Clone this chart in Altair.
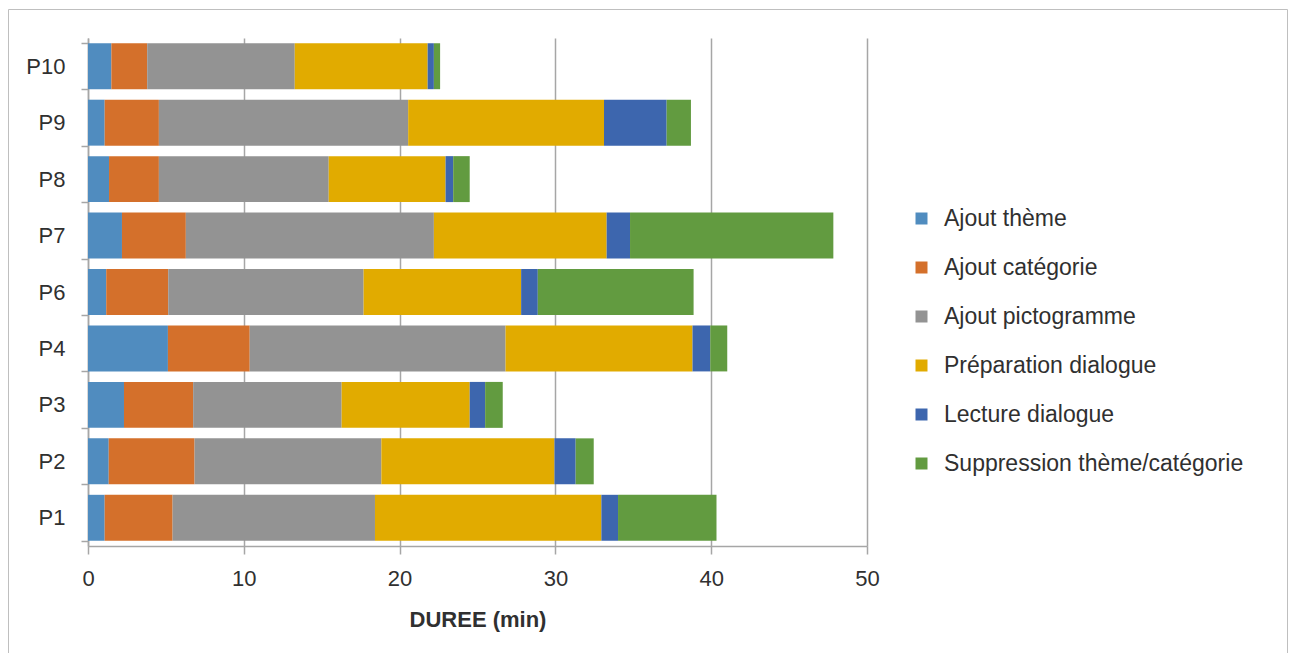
import altair as alt
import pandas as pd

participants = ["P1", "P2", "P3", "P4", "P6", "P7", "P8", "P9", "P10"]
series = [
    "Ajout thème",
    "Ajout catégorie",
    "Ajout pictogramme",
    "Préparation dialogue",
    "Lecture dialogue",
    "Suppression thème/catégorie",
]
colors = ["#508cbf", "#d4702b", "#939393", "#e1ab00", "#3d66ae", "#629b40"]

ajout_theme = [1.07, 1.33, 2.31, 5.13, 1.17, 2.18, 1.35, 1.07, 1.50]
ajout_categorie = [4.36, 5.51, 4.44, 5.25, 3.98, 4.10, 3.20, 3.48, 2.30]
ajout_pictogramme = [12.99, 11.99, 9.53, 16.42, 12.54, 15.92, 10.90, 16.00, 9.47]
preparation_dialogue = [14.53, 11.11, 8.22, 12.00, 10.11, 11.09, 7.50, 12.57, 8.53]
lecture_dialogue = [1.07, 1.36, 0.99, 1.14, 1.07, 1.50, 0.49, 4.02, 0.40]
suppression = [6.32, 1.16, 1.13, 1.09, 10.00, 13.05, 1.06, 1.56, 0.40]

x_ticks = [0, 10, 20, 30, 40, 50]

all_series = [ajout_theme, ajout_categorie, ajout_pictogramme,
              preparation_dialogue, lecture_dialogue, suppression]

rows = []
for i, p in enumerate(participants):
    for j, (name, vals) in enumerate(zip(series, all_series)):
        rows.append({"participant": p, "etape": name, "ordre": j, "duree": vals[i]})
df = pd.DataFrame(rows)

FONT = "Liberation Sans"
TXT = "#303030"
AX = "#a6a6a6"

bars = alt.Chart(df).mark_bar().encode(
    x=alt.X(
        "duree:Q",
        stack="zero",
        scale=alt.Scale(domain=[0, 50], nice=False),
        axis=alt.Axis(
            values=x_ticks,
            title="DUREE (min)",
            grid=True,
            gridColor=AX,
            gridWidth=1.5,
            domainColor=AX,
            domainWidth=1.5,
            tickColor=AX,
            tickWidth=1.5,
            tickSize=8,
            labelFlush=False,
            labelFontSize=22,
            labelPadding=14,
            labelColor=TXT,
            labelFont=FONT,
            titleFont=FONT,
            titleFontSize=22,
            titleFontWeight="bold",
            titleColor=TXT,
            titlePadding=20,
        ),
    ),
    y=alt.Y(
        "participant:N",
        sort=participants[::-1],
        scale=alt.Scale(paddingInner=0.186, paddingOuter=0.093),
        axis=alt.Axis(
            title=None,
            tickBand="extent",
            grid=False,
            domainColor=AX,
            domainWidth=1.5,
            tickColor=AX,
            tickWidth=1.5,
            tickSize=7,
            labelFontSize=22,
            labelPadding=16,
            labelColor=TXT,
            labelFont=FONT,
        ),
    ),
    color=alt.Color(
        "etape:N",
        scale=alt.Scale(domain=series, range=colors),
        legend=alt.Legend(
            title=None,
            orient="none",
            legendX=822,
            legendY=169,
            symbolType="square",
            symbolSize=144,
            symbolStrokeWidth=0,
            labelFontSize=23,
            labelFont=FONT,
            labelColor=TXT,
            labelOffset=11,
            rowPadding=25,
            labelLimit=400,
        ),
    ),
    order=alt.Order("ordre:Q"),
)

one = pd.DataFrame({"a": [0]})
FRAME = "#bfbfbf"
frame_left = alt.Chart(one).mark_rule(color=FRAME, strokeWidth=1).encode(
    x=alt.value(-79.5), y=alt.value(-28.5), y2=alt.value(640)
)
frame_right = alt.Chart(one).mark_rule(color=FRAME, strokeWidth=1).encode(
    x=alt.value(1199.5), y=alt.value(-28.5), y2=alt.value(640)
)
frame_top = alt.Chart(one).mark_rule(color=FRAME, strokeWidth=1).encode(
    x=alt.value(-79.5), x2=alt.value(1199.5), y=alt.value(-28.5)
)

chart = alt.layer(frame_left, frame_right, frame_top, bars).properties(
    width=779,
    height=508,
    padding={"left": 80, "top": 30, "right": 421, "bottom": 107},
    autosize=alt.AutoSizeParams(type="none"),
).configure_view(stroke=None)

chart.save("out.html", embed_options={"renderer": "svg", "actions": False})
